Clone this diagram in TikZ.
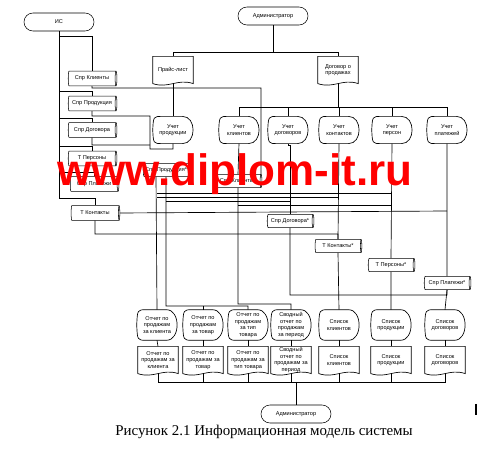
\documentclass[tikz,border=0pt]{standalone}
\usepackage{fontspec}
\setmainfont{Liberation Serif}
\newfontfamily\lsans{Liberation Sans}
\usetikzlibrary{shapes.geometric,calc}
\tikzset{
  lbl/.style={font=\lsans\fontsize{4.2}{5}\selectfont, align=center, inner sep=0pt},
  term/.style={lbl, draw, rounded corners=6.7pt, minimum width=52.5pt, minimum height=13.5pt},
  cyl/.style={lbl, draw, cylinder, shape aspect=0.35, minimum height=36.5pt, minimum width=11.2pt},
  scyl/.style={cyl, minimum height=35pt, minimum width=10pt},
  box/.style={lbl, minimum width=30pt, minimum height=20pt},
  rep/.style={lbl, minimum width=30pt, minimum height=22.5pt},
  wire/.style={line width=0.5pt},
}
\newcommand\DispOut[1]{\draw[wire] (#1.west) .. controls ([xshift=0.5pt]#1.north west) .. ([xshift=7pt]#1.north west) -- ([xshift=-8pt]#1.north east) .. controls ([xshift=2.5pt]#1.north east) and ([xshift=2.5pt]#1.south east) .. ([xshift=-8pt]#1.south east) -- ([xshift=7pt]#1.south west) .. controls ([xshift=0.5pt]#1.south west) .. (#1.west);}
\newcommand\DocOut[1]{\draw[wire] (#1.south west) -- (#1.north west) -- (#1.north east) -- (#1.south east) .. controls ([xshift=-12pt,yshift=4pt]#1.south east) and ([xshift=12pt,yshift=-4pt]#1.south west) .. (#1.south west);}
\begin{document}
\begin{tikzpicture}[x=0.75pt,y=-0.75pt]
\useasboundingbox (0,0) rectangle (494,460);
% terminals
\node[term] (is) at (59,22) {ИС};
\node[term] (admt) at (273,16) {Администратор};
\node[term] (admb) at (296,414) {Администратор};
% top documents
\node[box] (price) at (173,70) {Прайс-лист}; \DocOut{price}
\node[box] (dog) at (338,70) {Договор о\\продажах}; \DocOut{dog}
% left tables
\node[cyl] (spk) at (92,78.5) {Спр Клиенты};
\node[cyl] (spp) at (92,103.5) {Спр Продукция};
\node[cyl] (spd) at (92,130) {Спр Договора};
\node[cyl] (tp) at (92,158.5) {Т Персоны};
\node[cyl] (spl) at (94,184) {Спр Платежи};
\node[cyl] (tk) at (95,213) {Т Контакты};
% processes
\node[box] (uprod) at (173,130) {Учет\\продукции}; \DispOut{uprod}
\node[box] (ukl) at (239,130) {Учет\\клиентов}; \DispOut{ukl}
\node[box] (udog) at (288,130) {Учет\\договоров}; \DispOut{udog}
\node[box] (ukon) at (339,130) {Учет\\контактов}; \DispOut{ukon}
\node[box] (upers) at (392,130) {Учет\\персон}; \DispOut{upers}
\node[box] (uplat) at (447,130) {Учет\\платежей}; \DispOut{uplat}
% updated tables
\node[scyl] (sppS) at (166,170) {Спр Продукция*};
\node[scyl] (spkS) at (238,181) {Спр Клиенты*};
\node[scyl] (spdS) at (290,221) {Спр Договора*};
\node[scyl] (tkS) at (338,246) {Т Контакты*};
\node[scyl] (tpS) at (391,265) {Т Персоны*};
\node[scyl] (splS) at (447,283) {Спр Платежи*};
% reports
\node[rep] (r1) at (157,325) {Отчет по\\продажам\\за клиента}; \DispOut{r1}
\node[rep] (r2) at (203,325) {Отчет по\\продажам\\за товар}; \DispOut{r2}
\node[rep] (r3) at (248,325) {Отчет по\\продажам\\за тип\\товара}; \DispOut{r3}
\node[rep] (r4) at (291,325) {Сводный\\отчет по\\продажам\\за период}; \DispOut{r4}
\node[rep] (r5) at (339,325) {Список\\клиентов}; \DispOut{r5}
\node[rep] (r6) at (391,325) {Список\\продукции}; \DispOut{r6}
\node[rep] (r7) at (445,325) {Список\\договоров}; \DispOut{r7}
% report documents
\node[box] (d1) at (158,360) {Отчет по\\продажам за\\клиента}; \DocOut{d1}
\node[box] (d2) at (203,360) {Отчет по\\продажам за\\товар}; \DocOut{d2}
\node[box] (d3) at (248,360) {Отчет по\\продажам за\\тип товара}; \DocOut{d3}
\node[box] (d4) at (291,360) {Сводный\\отчет по\\продажам за\\период}; \DocOut{d4}
\node[box] (d5) at (339,360) {Список\\клиентов}; \DocOut{d5}
\node[box] (d6) at (391,360) {Список\\продукции}; \DocOut{d6}
\node[box] (d7) at (445,360) {Список\\договоров}; \DocOut{d7}
% ---------- connectors
\begin{scope}[wire]
\draw (admt.south) -- (273,52);
\draw (price.north) -- (173,52) -| (dog.north);
\draw (price.south) -- (uprod.north);
\draw (dog.south) -- (338,107);
\draw (ukl.north) |- (447,107) -- (uplat.north);
\draw (udog.north) -- (288,107);
\draw (ukon.north) -- (339,107);
\draw (upers.north) -- (392,107);
% IS trunk
\draw (is.south) -- (59,198) -| (tk.north);
\draw (59,36) -| (spk.north);
\draw (59,91) -| (spp.north);
\draw (59,118) -| (spd.north);
\draw (59,146) -| (tp.north);
\draw (59,172) -| (spl.north);
% table outputs
\draw (spk.south) -- (92,88) -| (261,175);
\draw (spp.south) -- (92,116) -| (150,149) -- (173,149) -- (uprod.south);
\draw (spd.south) -- (92,145) -- (150,145);
\draw (tk.east) -- (447,211);
\draw (tk.south) -- (95,234) -| (tkS.north);
\draw (ukl.south) -- (spkS.north);
\draw (udog.south) -- (288,145) -| (spdS.north);
\draw (ukon.south) -- (tkS.north);
\draw (upers.south) -- (tpS.north);
\draw (uplat.south) -- (splS.north);
\draw (sppS.south) ++(-10,0) coordinate (a1) -- (r1.north);
\draw (157,193) -- (392,193);
\draw (157,197) -- (339,197);
\draw (166,201) -- (290,201);
\draw (238,205) -- (392,205);
\draw (sppS.south) -- (166,306) -| (r3.north);
\draw (r2.north) -- (203,306);
\draw (spkS.south) -- (238,304) -| (r4.north);
\draw (spdS.south) -- (290,295) -| (splS.south);
\draw (tkS.south) -- (r5.north);
\draw (tpS.south) -- (r6.north);
\draw (splS.south) -- (r7.north);
% reports to documents
\foreach \i in {1,...,7} {\draw (r\i.south) -- (d\i.north);}
\draw (d1.south) -- (158,382) -| (d7.south);
\foreach \i in {2,...,6} {\draw (d\i.south) -- (d\i.south |- 0,382);}
\draw (296,382) -- (admb.north);
\end{scope}
% watermark and caption
\node[anchor=base west, inner sep=0pt, text=red, font=\lsans\bfseries\fontsize{33}{33}\selectfont] (wm) at (57,186) {www.diplom-it.ru};
\node[font=\fontsize{11.2}{13}\selectfont, inner sep=0pt] (cap) at (264,432) {Рисунок 2.1 Информационная модель системы};
\draw[line width=1pt] (476,404) -- (476,415);
\end{tikzpicture}
\end{document}
